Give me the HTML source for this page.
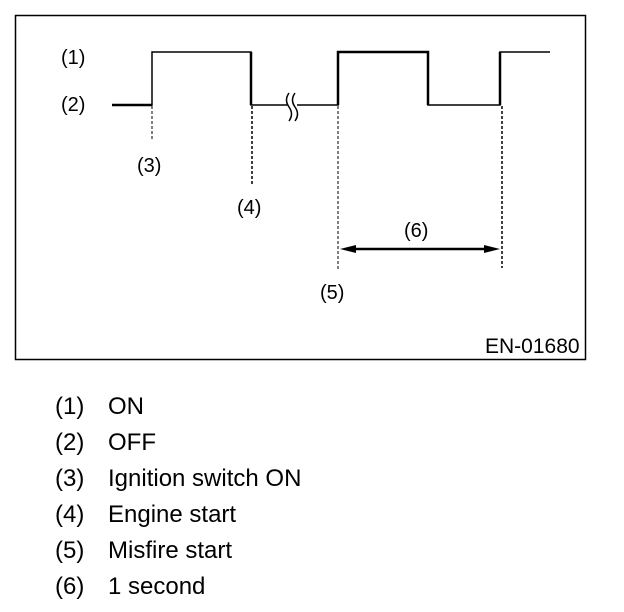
<!DOCTYPE html>
<html><head><style>
body{margin:0;background:#fff;width:624px;height:612px;overflow:hidden;font-family:"Liberation Sans",Arial,sans-serif}
.leg{position:absolute;font-size:24px;color:#000;line-height:24px}
</style></head><body>
<svg width="624" height="612" style="position:absolute;left:0;top:0" font-family="Liberation Sans, Arial, sans-serif">
<rect x="15.5" y="15.5" width="570" height="344" fill="none" stroke="#000" stroke-width="1.5"/>
<g fill="none" stroke="#000">
<polyline points="112,105 152,105 152,52 251,52 251,105 287,105" stroke-width="1.5"/>
<line x1="112" y1="105" x2="152" y2="105" stroke-width="2.5"/>
<line x1="251" y1="52" x2="251" y2="105" stroke-width="2.5"/>
<polyline points="297,105 338,105 338,52 428,52 428,105 500,105 500,52 550,52" stroke-width="1.5"/>
<polyline points="338,105 338,52 428,52 428,105" stroke-width="2.5"/>
<line x1="500" y1="105" x2="500" y2="52" stroke-width="2.5"/>
<path d="M289,93 Q284,100 289,107 Q294,114 289,121" stroke-width="1.5"/>
<path d="M295,93 Q290,100 295,107 Q300,114 295,121" stroke-width="1.5"/>
<g stroke-dasharray="3,2" stroke-width="1">
<line x1="152" y1="106" x2="152" y2="140"/>
<line x1="252" y1="106" x2="252" y2="186" stroke-width="1.5"/>
<line x1="338" y1="106" x2="338" y2="270"/>
<line x1="502" y1="106" x2="502" y2="268" stroke-width="1.5"/>
</g>
<line x1="345" y1="249" x2="494" y2="249" stroke-width="2.5"/>
</g>
<polygon points="340,249 356,245 356,253" fill="#000"/>
<polygon points="500,249 484,245 484,253" fill="#000"/>
<g font-size="20" fill="#000">
<text x="61" y="64">(1)</text>
<text x="61" y="111">(2)</text>
<text x="137" y="172">(3)</text>
<text x="237" y="214">(4)</text>
<text x="320" y="299">(5)</text>
<text x="404" y="237">(6)</text>
<text x="485" y="353" font-size="21">EN-01680</text>
</g>
</svg>
<div class="leg" style="left:55px;top:395px">(1)</div><div class="leg" style="left:108px;top:395px">ON</div>
<div class="leg" style="left:55px;top:431px">(2)</div><div class="leg" style="left:108px;top:431px">OFF</div>
<div class="leg" style="left:55px;top:467px">(3)</div><div class="leg" style="left:108px;top:467px">Ignition switch ON</div>
<div class="leg" style="left:55px;top:503px">(4)</div><div class="leg" style="left:108px;top:503px">Engine start</div>
<div class="leg" style="left:55px;top:539px">(5)</div><div class="leg" style="left:108px;top:539px">Misfire start</div>
<div class="leg" style="left:55px;top:575px">(6)</div><div class="leg" style="left:108px;top:575px">1 second</div>
</body></html>
